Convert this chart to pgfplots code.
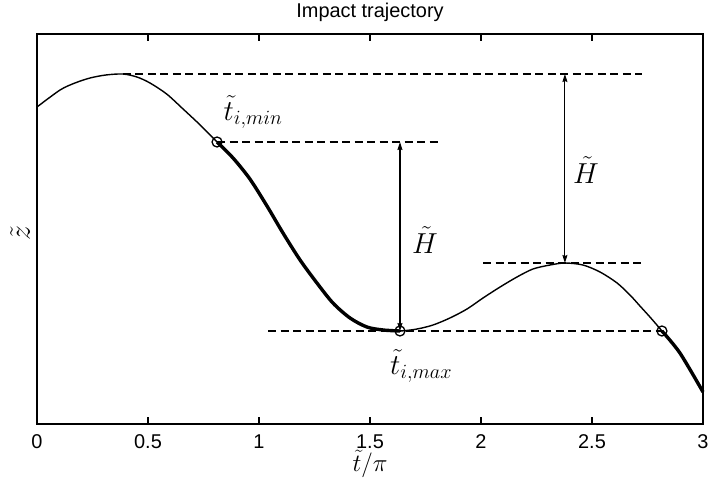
\documentclass[border=0pt]{standalone}
\usepackage{fix-cm}
\usepackage{pgfplots}
\pgfplotsset{compat=1.18}
\usepackage{fontspec}
\setmainfont{Liberation Sans}
\usetikzlibrary{arrows.meta}
\begin{document}
\begin{tikzpicture}
\begin{axis}[
  at={(0,0)}, anchor=south west,
  scale only axis, width=666bp, height=390bp,
  xmin=0, xmax=3, ymin=0, ymax=390,
  clip=false,
  xtick={0,0.5,1,1.5,2,2.5,3},
  xticklabels={0,0.5,1,1.5,2,2.5,3},
  ytick=\empty,
  xtick pos=both, xticklabel pos=bottom,
  tick align=inside,
  major tick length=7bp,
  every tick/.style={black, line width=1.2bp},
  axis line style={line width=1.6bp},
  xticklabel style={anchor=base, yshift=-24bp, font=\fontsize{20}{24}\selectfont},
  /pgf/number format/assume math mode=true,
]
\addplot[black, line width=1.4bp, smooth] coordinates {
(0,317) (0.104,334) (0.171,341) (0.239,346) (0.310,349) (0.387,350)
(0.450,347) (0.509,341) (0.584,330) (0.658,315) (0.735,299)
(0.811,282) (0.883,266) (0.959,245) (1.036,218) (1.108,191) (1.185,164)
(1.261,141) (1.333,121) (1.410,106) (1.486,97) (1.559,94) (1.635,93)
(1.712,95) (1.784,99) (1.860,106) (1.937,115) (2.009,126) (2.086,137)
(2.162,147) (2.234,155) (2.311,159) (2.378,161) (2.459,159) (2.536,152)
(2.613,141) (2.671,129) (2.716,118) (2.765,106) (2.815,93)
(2.896,71) (3.0,32)};
\addplot[black, line width=3.4bp, smooth] coordinates {
(0.811,282) (0.883,266) (0.959,245) (1.036,218) (1.108,191) (1.185,164)
(1.261,141) (1.333,121) (1.410,106) (1.486,97) (1.559,94) (1.635,93)};
\addplot[black, line width=3.4bp, smooth] coordinates {
(2.815,93) (2.896,71) (3.0,32)};
% dashed reference lines
\addplot[black, line width=1.3bp, dash pattern=on 8bp off 4.5bp] coordinates {(0.387,350) (2.725,350)};
\addplot[black, line width=1.3bp, dash pattern=on 8bp off 4.5bp] coordinates {(0.811,282) (1.824,282)};
\addplot[black, line width=1.3bp, dash pattern=on 8bp off 4.5bp] coordinates {(2.009,161) (2.730,161)};
\addplot[black, line width=1.3bp, dash pattern=on 8bp off 4.5bp] coordinates {(1.041,93) (2.82,93)};
% arrows
\addplot[black, line width=1.1bp, {Stealth[length=8bp,width=5bp,inset=1bp]}-{Stealth[length=8bp,width=5bp,inset=1bp]}] coordinates {(1.635,93) (1.635,282)};
\addplot[black, line width=1.1bp, {Stealth[length=8bp,width=5bp,inset=1bp]}-{Stealth[length=8bp,width=5bp,inset=1bp]}] coordinates {(2.378,161) (2.378,350)};
% circles
\addplot[black, only marks, mark=o, mark size=5bp, mark options={line width=1.3bp}] coordinates {(0.811,282) (1.635,93) (2.815,93)};
% annotations
\node[anchor=base west, inner sep=0pt, font=\fontsize{29}{33}\selectfont] at (axis cs:0.84,304) {$\tilde{t}_{i,min}$};
\node[anchor=base west, inner sep=0pt, font=\fontsize{29}{33}\selectfont] at (axis cs:1.59,50) {$\tilde{t}_{i,max}$};
\node[anchor=base west, inner sep=0pt, font=\fontsize{29}{33}\selectfont] at (axis cs:1.689,171) {$\tilde{H}$};
\node[anchor=base west, inner sep=0pt, font=\fontsize{29}{33}\selectfont] at (axis cs:2.414,241) {$\tilde{H}$};
% title and labels
\node[anchor=base, inner sep=0pt, font=\fontsize{20}{24}\selectfont] at ([yshift=16bp]rel axis cs:0.5,1) {Impact trajectory};
\node[anchor=base, inner sep=0pt, font=\fontsize{25}{29}\selectfont] at ([yshift=-47bp]rel axis cs:0.5,0) {$\tilde{t}/\pi$};
\node[anchor=center, rotate=90, inner sep=0pt, font=\fontsize{30}{34}\selectfont] at ([xshift=-17bp]rel axis cs:0,0.49) {$\tilde{z}$};
\end{axis}
\pgfresetboundingbox
\path[use as bounding box] (-37bp,-56bp) rectangle (674bp,424bp);
\end{tikzpicture}
\end{document}
